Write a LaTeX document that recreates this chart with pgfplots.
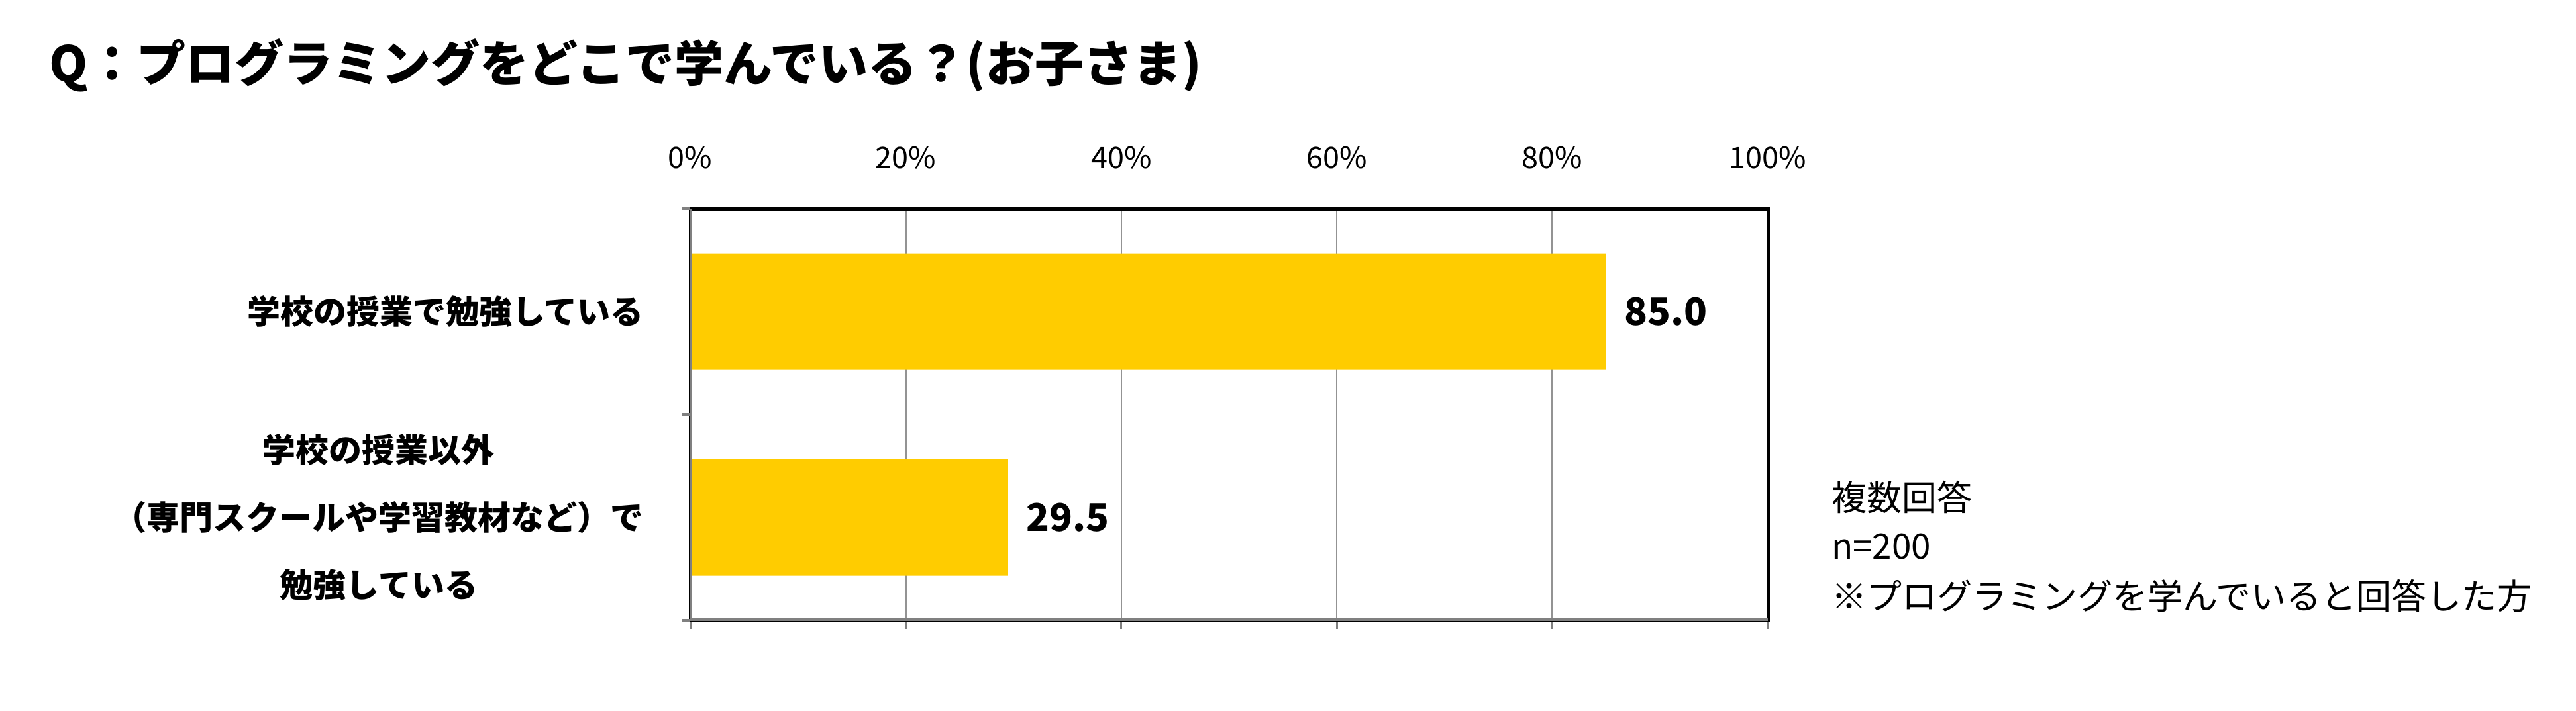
\documentclass[border=0pt]{standalone}
\usepackage{fontspec}
\setmainfont{Noto Sans CJK JP}
\usepackage{pgfplots}
\pgfplotsset{compat=1.18}
\definecolor{baryellow}{HTML}{FFCC00}
\begin{document}
\begin{tikzpicture}
\path[use as bounding box] (0,0) rectangle (777.8pt,214.6pt);
\begin{axis}[
  at={(208.4pt,27.2pt)}, anchor=south west,
  scale only axis, width=325.4pt, height=124.4pt,
  xbar, bar width=35.2pt,
  xmin=0, xmax=100, ymin=0, ymax=2, y dir=reverse,
  xtick={0,20,40,60,80,100},
  xticklabel={\pgfmathprintnumber{\tick}\%},
  xtick pos=lower, xticklabel pos=upper,
  ytick pos=left,
  tick align=outside,
  major tick length=2.5pt,
  xtick style={draw=gray, line width=0.6pt},
  xmajorgrids, grid style={gray!85, line width=0.5pt},
  axis line style={black, line width=1pt},
  ytick={0.5,1.5},
  yticklabels={学校の授業で勉強している, 学校の授業以外\\（専門スクールや学習教材など）で\\勉強している},
  ytick style={draw=none},
  extra y ticks={0,1,2},
  extra y tick labels={},
  extra y tick style={ytick pos=left, ytick style={draw=gray, line width=0.8pt}},
  yticklabel style={align=center, font=\bfseries\fontsize{10}{20.4}\selectfont, xshift=-8pt},
  xticklabel style={font=\fontsize{9}{10}\selectfont, yshift=6pt},
  /pgf/number format/assume math mode=true,
  nodes near coords={\pgfmathprintnumber[fixed,fixed zerofill,precision=1]{\pgfplotspointmeta}},
  nodes near coords style={anchor=west, font=\bfseries\fontsize{11.5}{12}\selectfont, xshift=2pt},
]
\addplot[fill=baryellow, draw=none] coordinates {(85.0,0.5) (29.5,1.5)};
\draw[gray, line width=1.2pt] (axis cs:0,0) -- (axis cs:0,2) -- (axis cs:100,2);
\end{axis}
\node[anchor=west, font=\bfseries\fontsize{14.8}{16}\selectfont] at (11.3pt,194.8pt) {Q：プログラミングをどこで学んでいる？(お子さま)};
\node[anchor=west, font=\fontsize{10.6}{12}\selectfont] at (549.5pt,64.4pt) {複数回答};
\node[anchor=west, font=\fontsize{10.6}{12}\selectfont] at (549.5pt,49.4pt) {n=200};
\node[anchor=west, font=\fontsize{10.6}{12}\selectfont] at (549.5pt,34.6pt) {※プログラミングを学んでいると回答した方};
\end{tikzpicture}
\end{document}
